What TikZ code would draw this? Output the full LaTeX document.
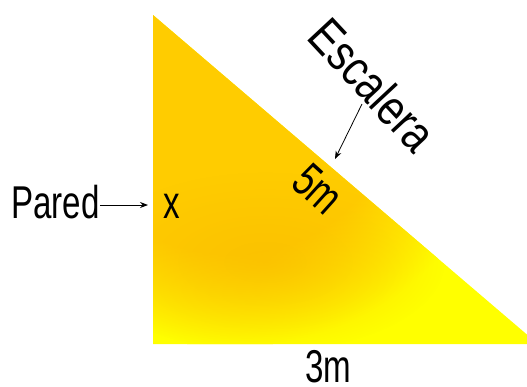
\documentclass[tikz,border=0pt]{standalone}
\usepackage{fontspec}
\setmainfont{Liberation Sans}[FakeStretch=0.72]
\newfontfamily\escfont{Liberation Sans}[FakeStretch=0.82]
\usetikzlibrary{arrows.meta,fadings}
\definecolor{cmain}{RGB}{255,204,0}
\definecolor{cyel}{RGB}{255,255,0}
\definecolor{cdark}{RGB}{249,188,0}
\pgfdeclareradialshading{glow}{\pgfpointorigin}{color(0bp)=(cmain); color(15bp)=(cmain); color(25bp)=(cyel); color(50bp)=(cyel)}
\tikzfading[name=spotfade, inner color=transparent!35, outer color=transparent!100]
\tikzset{
  lbl/.style={font=\fontsize{46}{50}\selectfont, inner sep=0pt, text=black},
  ptr/.style={-{Stealth[length=8pt,width=6pt]}, line width=0.8pt, black}
}
\begin{document}
\begin{tikzpicture}[x=1pt,y=-1pt]
\useasboundingbox (0,0) rectangle (527,386);
\coordinate (A) at (153,15);
\coordinate (B) at (153,344);
\coordinate (C) at (538,344);
\fill[cyel] (A) -- (B) -- (C) -- cycle;
\begin{scope}
  \clip (A) -- (B) -- (C) -- cycle;
  \shade[shading=glow] (230,115) ellipse (265 and 232);
  \fill[cdark, path fading=spotfade] (265,262) ellipse (180 and 90);
\end{scope}
\node[lbl, anchor=base west] (pared) at (11,218) {Pared};
\coordinate (wall) at (148,205);
\draw[ptr] (pared.east |- wall) -- (wall);
\node[lbl, anchor=base] (x) at (172,218) {x};
\node[lbl, font=\fontsize{48}{52}\selectfont, rotate=-42] (cinco) at (318,189) {5m};
\node[lbl, font=\escfont\fontsize{50}{54}\selectfont, rotate=-47] (esc) at (373,85) {Escalera};
\coordinate (escTail) at (362,104);
\coordinate (escTip) at (335,159);
\draw[ptr] (escTail) -- (escTip);
\node[lbl, anchor=base] (tres) at (328,382) {3m};
\end{tikzpicture}
\end{document}
